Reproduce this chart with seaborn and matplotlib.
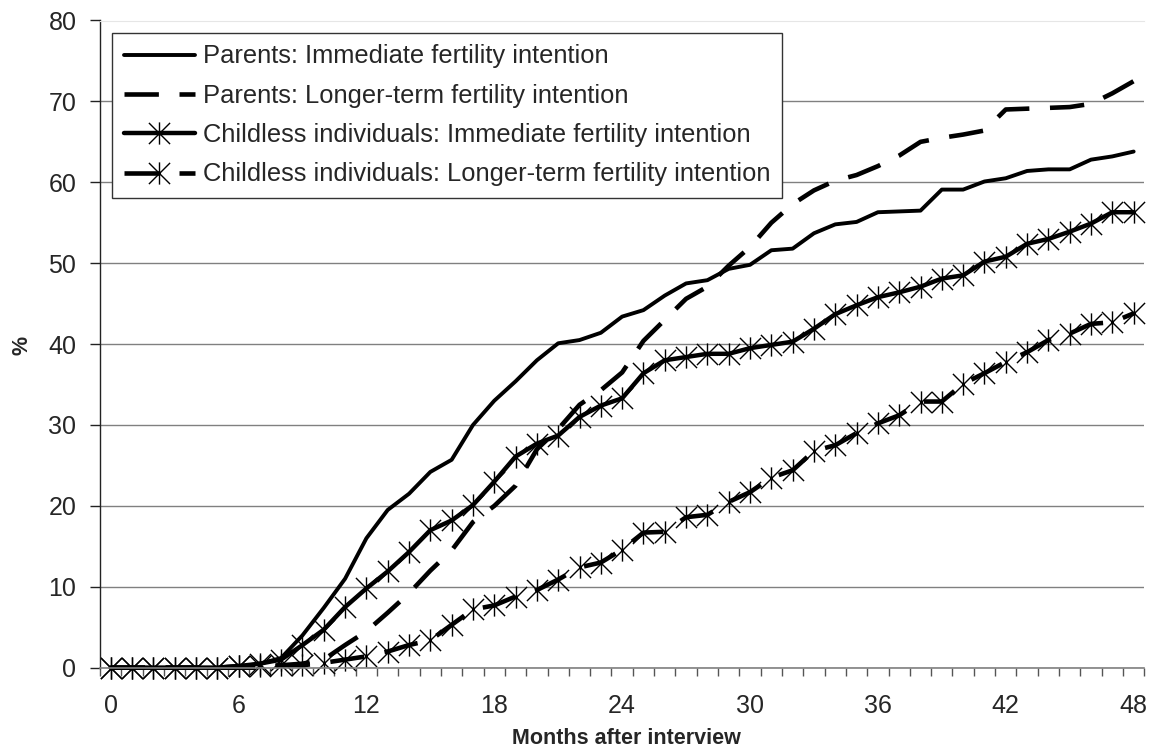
import numpy as np
import matplotlib
matplotlib.use("Agg")
import matplotlib.pyplot as plt
from matplotlib.path import Path
from matplotlib.ticker import MultipleLocator, FixedLocator
import seaborn as sns

# ---- data ----
months = list(range(49))
parents_immediate = [0, 0, 0, 0, 0, 0, 0.1, 0.5, 1.2, 4.0, 7.4, 11.0, 16.0, 19.5, 21.5, 24.2,
                     25.7, 30.0, 33.0, 35.4, 38.0, 40.1, 40.5, 41.4, 43.4, 44.2, 46.0, 47.5,
                     47.9, 49.3, 49.8, 51.6, 51.8, 53.7, 54.8, 55.1, 56.3, 56.4, 56.5, 59.1,
                     59.1, 60.1, 60.5, 61.4, 61.6, 61.6, 62.8, 63.2, 63.8]
parents_longer = [0, 0, 0, 0, 0, 0, 0, 0, 0.3, 0.5, 1.0, 2.8, 4.5, 6.8, 9.2, 12.0,
                  14.5, 18.0, 20.0, 22.5, 27.0, 29.5, 32.5, 34.3, 36.5, 40.4, 43.0, 45.6,
                  47.1, 49.7, 52.0, 55.0, 57.3, 59.0, 60.2, 60.9, 62.0, 63.3, 65.0, 65.5,
                  65.9, 66.4, 69.0, 69.1, 69.2, 69.3, 69.7, 71.0, 72.5]
childless_immediate = [0, 0, 0, 0, 0, 0, 0.2, 0.5, 1.0, 2.8, 4.7, 7.5, 9.8, 11.9, 14.3, 17.0,
                       18.2, 20.1, 23.0, 26.1, 27.7, 28.7, 31.0, 32.4, 33.3, 36.4, 38.0, 38.4,
                       38.8, 38.8, 39.5, 39.9, 40.3, 41.9, 43.7, 44.8, 45.8, 46.4, 47.1, 48.1,
                       48.5, 50.2, 50.8, 52.4, 53.0, 53.9, 54.9, 56.3, 56.3]
childless_longer = [0, 0, 0, 0, 0, 0, 0.2, 0.2, 0.3, 0.3, 0.6, 1.0, 1.4, 2.0, 2.8, 3.4,
                    5.3, 7.2, 7.7, 8.8, 9.6, 10.9, 12.4, 13.0, 14.6, 16.7, 16.8, 18.6,
                    18.9, 20.5, 21.7, 23.5, 24.4, 26.8, 27.5, 29.0, 30.2, 31.2, 32.9, 32.9,
                    35.1, 36.4, 37.8, 39.0, 40.5, 41.3, 42.5, 42.7, 43.8]
labels = ["Parents: Immediate fertility intention",
          "Parents: Longer-term fertility intention",
          "Childless individuals: Immediate fertility intention",
          "Childless individuals: Longer-term fertility intention"]
x_ticks = [0, 6, 12, 18, 24, 30, 36, 42, 48]

sns.set_style("white")
plt.rcParams['font.family'] = ['Liberation Sans', 'DejaVu Sans']

# Excel-style star marker: an X with a vertical bar
star = Path([(-1, -1), (1, 1), (-1, 1), (1, -1), (0, -1.05), (0, 1.05)],
            [Path.MOVETO, Path.LINETO, Path.MOVETO, Path.LINETO, Path.MOVETO, Path.LINETO])
dash = (0, (7.5, 4.5))

fig = plt.figure(figsize=(11.58, 7.55), dpi=100)
ax = fig.add_axes([100 / 1158, 1 - 667.7 / 755, 1044.3 / 1158, 647.2 / 755])

sns.lineplot(x=months, y=parents_immediate, ax=ax, color='black', linewidth=2.8,
             label=labels[0], clip_on=False)
sns.lineplot(x=months, y=parents_longer, ax=ax, color='black', linewidth=3.3,
             linestyle=dash, label=labels[1], clip_on=False)
sns.lineplot(x=months, y=childless_immediate, ax=ax, color='black', linewidth=3.2,
             marker=star, markersize=16, markeredgewidth=1.0, markeredgecolor='black',
             label=labels[2], clip_on=False)
sns.lineplot(x=months, y=childless_longer, ax=ax, color='black', linewidth=3.3,
             linestyle=dash, marker=star, markersize=16, markeredgewidth=1.0,
             markeredgecolor='black', label=labels[3], clip_on=False)

ax.set_xlim(-0.5, 48.5)
ax.set_ylim(0, 80)
ax.yaxis.set_major_locator(MultipleLocator(10))
ax.xaxis.set_major_locator(FixedLocator(x_ticks))
ax.xaxis.set_minor_locator(FixedLocator(np.arange(-0.5, 49, 1)))
ax.grid(axis='y', color='#808080', linewidth=1.0)
ax.set_axisbelow(True)

ax.spines['right'].set_visible(False)
ax.spines['top'].set_color('#e6e6e6')
ax.spines['left'].set_color('#222222')
ax.spines['left'].set_linewidth(1.0)
ax.spines['bottom'].set_color('#808080')
ax.spines['bottom'].set_linewidth(1.2)

ax.tick_params(axis='y', which='major', direction='out', length=7, width=1,
               color='#222222', pad=10, labelsize=18, left=True)
ax.tick_params(axis='x', which='major', length=0, pad=19, labelsize=18, bottom=True)
ax.tick_params(axis='x', which='minor', direction='out', length=6, width=1,
               color='#555555', bottom=True)
ax.set_xlabel("")
ax.set_ylabel("")

fig.text(626 / 1158, 1 - 738 / 755, "Months after interview", ha='center', va='center',
         fontsize=15.5, fontweight='bold')
fig.text(22 / 1158, 1 - 345 / 755, "%", ha='center', va='center', rotation=90,
         fontsize=15.5, fontweight='bold')

leg = ax.legend(loc='upper left', bbox_to_anchor=(112 / 1158, 1 - 33 / 755),
                bbox_transform=fig.transFigure, borderaxespad=0, fontsize=18.4,
                frameon=True, fancybox=False, edgecolor='#333333', framealpha=1,
                handlelength=2.8, handletextpad=0.3, borderpad=0.45, labelspacing=0.6,
                numpoints=1)
leg.get_frame().set_linewidth(1.0)

fig.savefig("out.png", dpi=100)
